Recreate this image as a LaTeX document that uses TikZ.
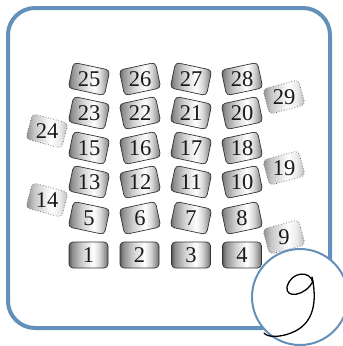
\documentclass[tikz,border=0pt]{standalone}
\usepackage{fontspec}
\setmainfont{Liberation Serif}
\usetikzlibrary{shapes.geometric}
\definecolor{frameblue}{RGB}{100,145,185}
\pgfdeclarehorizontalshading{boxshade}{100bp}{color(0bp)=(black!65); color(25bp)=(black!65); color(29bp)=(black!45); color(42bp)=(black!18); color(56bp)=(white); color(64bp)=(black!15); color(71bp)=(black!40); color(75bp)=(black!60); color(100bp)=(black!60)}
\pgfdeclarehorizontalshading{lightshade}{100bp}{color(0bp)=(black!45); color(25bp)=(black!45); color(35bp)=(black!22); color(55bp)=(white); color(65bp)=(black!8); color(75bp)=(black!28); color(100bp)=(black!28)}
\tikzset{
  box/.style={draw=black!80, line width=0.7pt, rounded corners=4pt, shading=boxshade, minimum width=37pt, minimum height=26pt, inner sep=0pt},
  flatbox/.style={box, minimum width=39pt},
  extrabox/.style={draw=black!60, dotted, line width=0.7pt, rounded corners=4pt, shading=lightshade, minimum width=37pt, minimum height=26pt, inner sep=0pt},
  num/.style={font=\fontsize{22.5}{22.5}\selectfont, inner sep=0pt, text=black!90},
}
\newcommand\bx[6]{\node[#6, rotate=#4] (b#1) at (#2,#3) {}; \node[num] (t#1) at (b#1.center) {#5};}
\begin{document}
\begin{tikzpicture}[x=1pt,y=-1pt]
\useasboundingbox (0,0) rectangle (343,346);
\draw[frameblue, line width=4pt, rounded corners=27pt] (8,8) rectangle (330,328);
% bottom row
\bx{1}{88.5}{255}{0}{1}{flatbox}
\bx{2}{139.5}{255}{0}{2}{flatbox}
\bx{3}{191}{255}{0}{3}{flatbox}
\bx{4}{242}{255}{0}{4}{flatbox}
% row 5-8
\bx{5}{89}{218}{-12}{5}{box}
\bx{6}{140}{218}{12}{6}{box}
\bx{7}{191}{218}{-12}{7}{box}
\bx{8}{242}{218}{12}{8}{box}
% row 13 12 11 10
\bx{13}{89}{182}{-12}{13}{box}
\bx{12}{140}{182}{12}{12}{box}
\bx{11}{191}{182}{-12}{11}{box}
\bx{10}{242}{182}{12}{10}{box}
% row 15 16 17 18
\bx{15}{89}{148}{-12}{15}{box}
\bx{16}{140}{148}{12}{16}{box}
\bx{17}{191}{148}{-12}{17}{box}
\bx{18}{242}{148}{12}{18}{box}
% row 23 22 21 20
\bx{23}{89}{113}{-12}{23}{box}
\bx{22}{140}{113}{12}{22}{box}
\bx{21}{191}{113}{-12}{21}{box}
\bx{20}{242}{113}{12}{20}{box}
% row 25 26 27 28
\bx{25}{89}{79}{-12}{25}{box}
\bx{26}{140}{79}{12}{26}{box}
\bx{27}{191}{79}{-12}{27}{box}
\bx{28}{242}{79}{12}{28}{box}
% extra
\bx{24}{47}{131}{-15}{24}{extrabox}
\bx{14}{47}{200}{-15}{14}{extrabox}
\bx{29}{284}{97}{15}{29}{extrabox}
\bx{19}{284}{168}{15}{19}{extrabox}
\bx{9}{284}{237}{15}{9}{extrabox}
% circle
\node[circle, draw=frameblue, fill=white, line width=2pt, minimum size=96pt, inner sep=0pt] (c) at (300,297) {};
\draw[black, line width=1.3pt, line cap=round, line join=round]
  (313,283) .. controls (311,270) and (291,271) .. (287,287)
  .. controls (285,299) and (306,296) .. (313,281);
\draw[black, line width=1.3pt, line cap=round]
  (312,277) .. controls (317,300) and (315,324) .. (291,333)
  .. controls (281,337) and (268,338) .. (264,333);
\end{tikzpicture}
\end{document}
